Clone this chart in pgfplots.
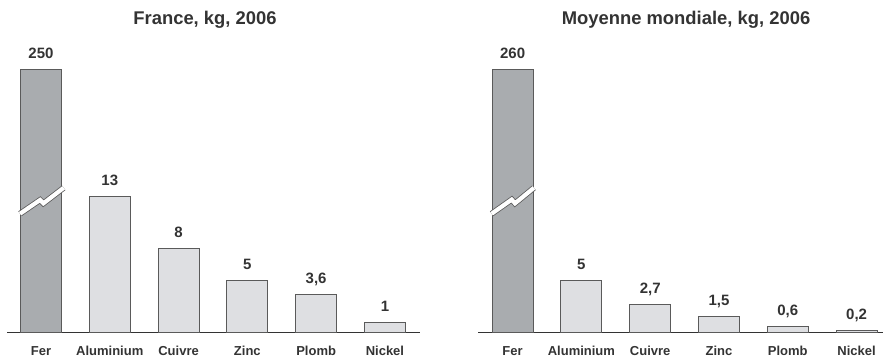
\documentclass[border=0pt]{standalone}
\usepackage{pgfplots}
\pgfplotsset{compat=1.18}
\usepackage{pgfplotstable}
\usepackage{fontspec}
\setmainfont{Liberation Sans}
\definecolor{txt}{HTML}{333333}
\definecolor{ferfill}{HTML}{A9ACAF}
\definecolor{barfill}{HTML}{DEDFE2}
\definecolor{edge}{HTML}{5A5A5A}

% Fer is drawn on a broken (compressed) scale: bar height 25.1, label = real value
\pgfplotstableread{
x y label
0 25.1 250
}\franceFer
\pgfplotstableread{
x y label
1 13 13
2 8 8
3 5 5
4 3.6 {3,6}
5 1 1
}\franceOther
\pgfplotstableread{
x y label
0 25.1 260
}\mondeFer
\pgfplotstableread{
x y label
1 5 5
2 2.7 {2,7}
3 1.5 {1,5}
4 0.6 {0,6}
5 0.2 {0,2}
}\mondeOther

\pgfplotsset{panel/.style={
  scale only axis, height=273pt, ymin=0, ymax=26,
  axis x line=bottom, axis y line=none,
  x axis line style={-, draw=black!80, line width=1.1pt},
  xtick={0,...,5}, xticklabels={Fer,Aluminium,Cuivre,Zinc,Plomb,Nickel},
  major tick length=0pt,
  xticklabel style={anchor=base, yshift=-23.3pt, font=\bfseries\fontsize{13}{13}\selectfont, text=txt},
  clip=false,
}}
\pgfplotsset{bars/.style={
  ybar, bar shift=0pt, bar width=41pt, draw=edge, line width=1pt,
  nodes near coords, point meta=explicit symbolic,
  every node near coord/.append style={anchor=base, yshift=11pt, inner sep=0pt,
     font=\bfseries\fontsize{15}{15}\selectfont, text=txt},
}}
\tikzset{breakmark/.style={draw=edge, line width=0.8pt, double=white, double distance=4.2pt}}

\begin{document}
\begin{tikzpicture}
\useasboundingbox (0,0) rectangle (891pt,361pt);

\begin{axis}[panel, at={(7pt,28.3pt)}, anchor=south west, width=413pt,
  xmin=-0.494, xmax=5.51]
\addplot[bars, fill=ferfill] table[x=x,y=y,meta=label]{\franceFer};
\addplot[bars, fill=barfill] table[x=x,y=y,meta=label]{\franceOther};
\draw[breakmark] (axis cs:-0.305,11.33) -- (axis cs:-0.013,12.64) -- (axis cs:0.035,12.32) -- (axis cs:0.33,13.8);
\end{axis}

\begin{axis}[panel, at={(478pt,28.3pt)}, anchor=south west, width=405pt,
  xmin=-0.503, xmax=5.384]
\addplot[bars, fill=ferfill] table[x=x,y=y,meta=label]{\mondeFer};
\addplot[bars, fill=barfill] table[x=x,y=y,meta=label]{\mondeOther};
\draw[breakmark] (axis cs:-0.305,11.33) -- (axis cs:-0.013,12.68) -- (axis cs:0.035,12.32) -- (axis cs:0.31,13.8);
\end{axis}

\node[anchor=base, text=txt, font=\bfseries\fontsize{18.4}{18.4}\selectfont] at (205pt,336.5pt) {France, kg, 2006};
\node[anchor=base, text=txt, font=\bfseries\fontsize{18.4}{18.4}\selectfont] at (686pt,336.5pt) {Moyenne mondiale, kg, 2006};
\end{tikzpicture}
\end{document}
